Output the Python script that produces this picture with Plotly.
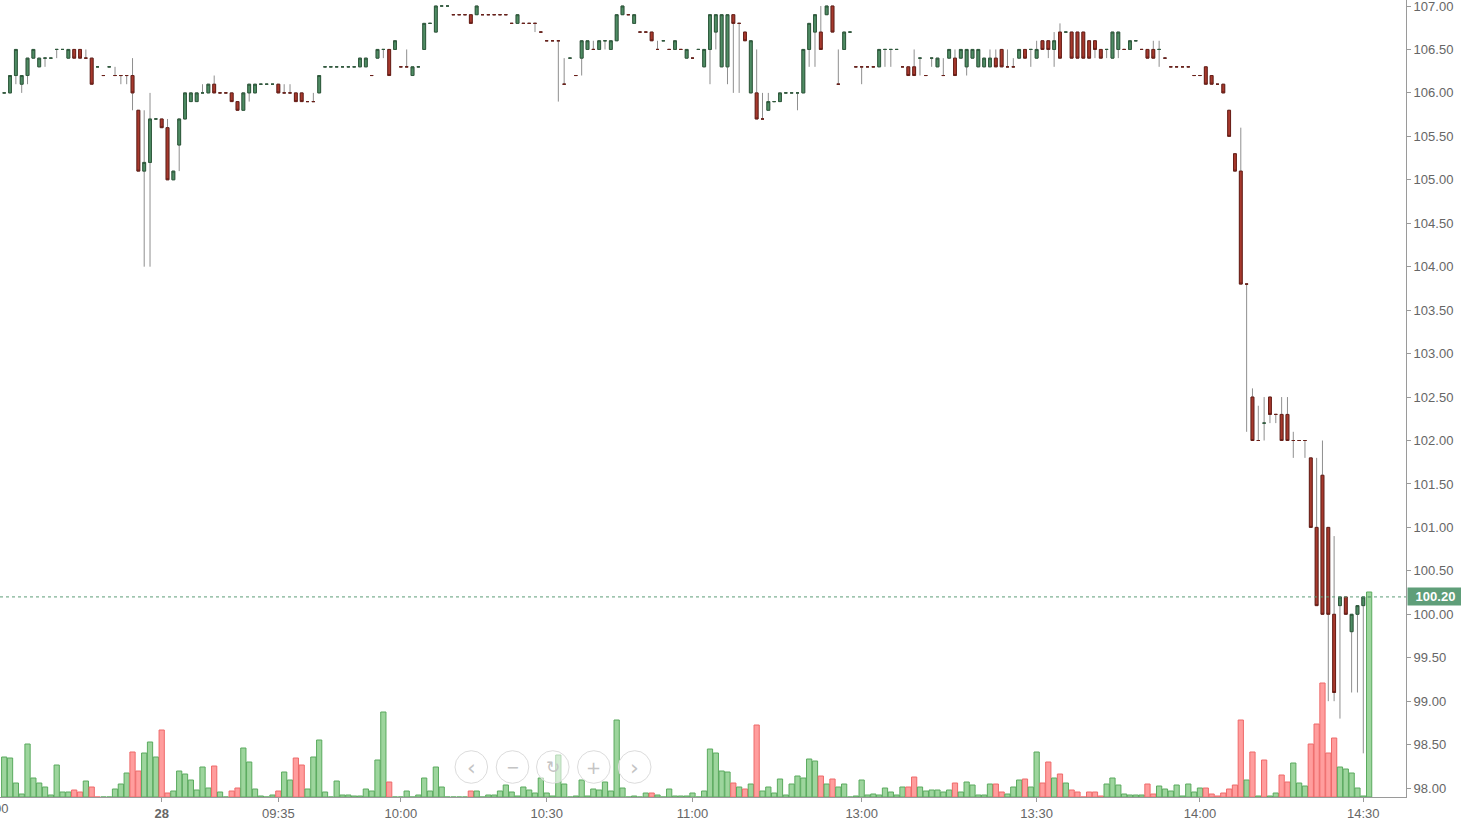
import plotly.graph_objects as go

# ---------------- data (one slot per bar) ----------------
opens = [106.0,106.0,106.2,106.1,106.2,106.4,106.3,106.4,106.4,106.5,
         106.5,106.4,106.5,106.5,106.4,106.4,106.3,106.2,106.3,106.2,
         106.2,106.2,106.2,105.8,105.1,105.2,105.7,105.7,105.6,105.0,
         105.4,105.7,105.9,105.9,106.0,106.0,106.1,106.0,106.0,106.0,
         105.9,105.8,106.0,106.0,106.1,106.1,106.1,106.1,106.0,106.0,
         106.0,106.0,105.9,105.9,106.0,106.3,106.3,106.3,106.3,106.3,
         106.3,106.3,106.3,106.2,106.4,106.5,106.5,106.5,106.3,106.3,
         106.2,106.3,106.5,106.8,106.7,107.0,107.0,106.9,106.9,106.9,
         106.9,106.9,106.9,106.9,106.9,106.9,106.9,106.8,106.8,106.8,
         106.8,106.8,106.7,106.6,106.6,106.6,106.1,106.4,106.2,106.4,
         106.5,106.5,106.5,106.6,106.5,106.6,106.9,106.9,106.8,106.7,
         106.7,106.7,106.5,106.6,106.5,106.5,106.5,106.4,106.4,106.5,
         106.3,106.5,106.7,106.3,106.3,106.9,106.8,106.7,106.0,106.0,
         105.7,105.8,105.9,105.9,106.0,106.0,106.0,106.0,106.5,106.7,
         106.7,106.9,107.0,106.1,106.5,106.7,106.3,106.3,106.3,106.3,
         106.3,106.5,106.5,106.5,106.3,106.3,106.3,106.4,106.2,106.4,
         106.3,106.2,106.4,106.4,106.4,106.3,106.4,106.3,106.3,106.3,
         106.4,106.5,106.3,106.3,106.4,106.5,106.5,106.4,106.6,106.6,
         106.5,106.7,106.7,106.7,106.7,106.7,106.6,106.6,106.5,106.5,
         106.4,106.5,106.5,106.5,106.6,106.5,106.5,106.5,106.5,106.4,
         106.3,106.3,106.3,106.3,106.2,106.2,106.3,106.2,106.1,106.1,
         105.8,105.3,105.1,103.8,102.5,102.0,102.2,102.5,102.3,102.3,
         102.3,102.0,102.0,102.0,101.8,101.0,101.6,101.0,100.0,100.1,
         100.2,99.8,100.0,100.1,100.2]
highs = [106.0,106.2,106.5,106.2,106.4,106.5,106.4,106.4,106.4,106.5,
         106.5,106.5,106.5,106.5,106.5,106.4,106.3,106.2,106.3,106.3,
         106.2,106.2,106.4,105.8,105.8,106.0,105.7,105.7,105.7,105.1,
         105.7,106.0,106.0,106.0,106.1,106.1,106.2,106.0,106.0,106.0,
         105.9,106.0,106.1,106.1,106.1,106.1,106.1,106.1,106.1,106.1,
         106.0,106.0,105.9,106.0,106.2,106.3,106.3,106.3,106.3,106.3,
         106.3,106.4,106.4,106.2,106.5,106.5,106.5,106.6,106.3,106.5,
         106.3,106.3,106.8,106.8,107.0,107.0,107.0,106.9,106.9,106.9,
         106.9,107.0,106.9,106.9,106.9,106.9,106.9,106.8,106.9,106.8,
         106.8,106.8,106.7,106.6,106.6,106.6,106.4,106.4,106.2,106.6,
         106.6,106.6,106.6,106.6,106.6,106.9,107.0,106.9,106.9,106.7,
         106.7,106.7,106.6,106.6,106.5,106.6,106.5,106.5,106.4,106.5,
         106.5,106.9,106.9,106.9,106.9,106.9,106.8,106.7,106.6,106.5,
         106.0,106.0,105.9,106.0,106.0,106.0,106.0,106.5,106.8,106.9,
         107.0,107.0,107.0,106.5,106.7,106.7,106.3,106.3,106.3,106.3,
         106.5,106.5,106.5,106.5,106.3,106.3,106.5,106.4,106.2,106.4,
         106.4,106.4,106.5,106.5,106.5,106.5,106.5,106.5,106.4,106.5,
         106.5,106.5,106.5,106.4,106.5,106.5,106.5,106.6,106.6,106.6,
         106.7,106.8,106.7,106.7,106.7,106.7,106.6,106.6,106.5,106.5,
         106.7,106.7,106.5,106.6,106.6,106.5,106.5,106.6,106.6,106.4,
         106.3,106.3,106.3,106.3,106.2,106.2,106.3,106.2,106.1,106.1,
         105.8,105.3,105.6,103.8,102.6,102.4,102.5,102.5,102.3,102.5,
         102.5,102.1,102.0,102.0,101.8,101.8,102.0,101.0,100.9,100.2,
         100.2,100.0,100.1,100.2,100.2]
lows = [106.0,106.0,106.1,106.0,106.1,106.4,106.3,106.3,106.4,106.4,
        106.5,106.4,106.4,106.4,106.4,106.1,106.3,106.2,106.3,106.2,
        106.1,106.1,105.8,105.1,104.0,104.0,105.7,105.6,105.0,105.0,
        105.1,105.7,105.9,105.9,106.0,106.0,106.0,106.0,106.0,105.9,
        105.8,105.8,105.9,106.0,106.1,106.1,106.1,106.0,106.0,106.0,
        105.9,105.9,105.9,105.9,106.0,106.3,106.3,106.3,106.3,106.3,
        106.3,106.3,106.3,106.2,106.4,106.4,106.2,106.5,106.3,106.3,
        106.2,106.3,106.5,106.8,106.7,107.0,107.0,106.9,106.9,106.9,
        106.8,106.9,106.9,106.9,106.9,106.9,106.9,106.8,106.8,106.8,
        106.8,106.7,106.7,106.6,106.6,105.9,106.1,106.4,106.2,106.2,
        106.5,106.5,106.5,106.5,106.5,106.6,106.9,106.9,106.8,106.7,
        106.7,106.6,106.5,106.6,106.5,106.5,106.5,106.4,106.4,106.5,
        106.3,106.1,106.5,106.3,106.1,106.0,106.0,106.6,106.0,105.7,
        105.7,105.8,105.9,105.9,106.0,106.0,105.8,106.0,106.3,106.3,
        106.5,106.9,106.7,106.1,106.5,106.7,106.3,106.1,106.3,106.3,
        106.3,106.3,106.3,106.5,106.3,106.2,106.2,106.2,106.2,106.3,
        106.3,106.2,106.4,106.2,106.4,106.2,106.4,106.3,106.3,106.3,
        106.3,106.3,106.3,106.3,106.4,106.4,106.3,106.4,106.5,106.4,
        106.3,106.4,106.7,106.4,106.4,106.4,106.4,106.4,106.4,106.4,
        106.4,106.4,106.5,106.5,106.6,106.5,106.4,106.4,106.3,106.4,
        106.3,106.3,106.3,106.3,106.2,106.2,106.1,106.1,106.1,106.0,
        105.5,105.1,103.8,102.1,102.0,102.0,102.0,102.2,102.2,102.0,
        102.0,101.8,102.0,101.8,101.0,100.1,100.0,99.0,99.0,98.8,
        100.0,99.1,99.1,98.4,100.2]
closes = [106.0,106.2,106.5,106.2,106.4,106.5,106.4,106.4,106.4,106.5,
          106.5,106.5,106.4,106.4,106.4,106.1,106.3,106.2,106.3,106.2,
          106.2,106.2,106.0,105.1,105.2,105.7,105.7,105.6,105.0,105.1,
          105.7,106.0,106.0,106.0,106.0,106.1,106.0,106.0,106.0,105.9,
          105.8,106.0,106.1,106.1,106.1,106.1,106.1,106.0,106.0,106.0,
          105.9,105.9,105.9,105.9,106.2,106.3,106.3,106.3,106.3,106.3,
          106.3,106.4,106.4,106.2,106.5,106.5,106.2,106.6,106.3,106.3,
          106.3,106.3,106.8,106.8,107.0,107.0,107.0,106.9,106.9,106.9,
          106.8,107.0,106.9,106.9,106.9,106.9,106.9,106.8,106.9,106.8,
          106.8,106.8,106.7,106.6,106.6,106.6,106.1,106.4,106.2,106.6,
          106.6,106.5,106.6,106.6,106.6,106.9,107.0,106.9,106.9,106.7,
          106.7,106.6,106.5,106.6,106.5,106.6,106.5,106.5,106.4,106.5,
          106.5,106.9,106.9,106.9,106.9,106.8,106.8,106.6,106.6,105.7,
          105.7,105.9,105.9,106.0,106.0,106.0,106.0,106.5,106.8,106.9,
          106.5,107.0,106.7,106.1,106.7,106.7,106.3,106.3,106.3,106.3,
          106.5,106.5,106.5,106.5,106.3,106.2,106.2,106.4,106.2,106.4,
          106.4,106.2,106.5,106.2,106.5,106.5,106.5,106.5,106.4,106.4,
          106.3,106.3,106.3,106.3,106.5,106.4,106.5,106.5,106.5,106.5,
          106.6,106.4,106.7,106.4,106.4,106.4,106.4,106.5,106.4,106.5,
          106.7,106.7,106.5,106.6,106.6,106.5,106.4,106.4,106.5,106.4,
          106.3,106.3,106.3,106.3,106.2,106.2,106.1,106.1,106.1,106.0,
          105.5,105.1,103.8,103.8,102.0,102.0,102.2,102.3,102.3,102.0,
          102.0,102.0,102.0,102.0,101.0,100.1,100.0,100.0,99.1,100.2,
          100.0,100.0,100.1,100.2,100.2]
volumes = [40,39,14,3,53,19,14,10,2,32,
           5,5,7,5,16,10,0,0,0,8,
           13,24,45,26,44,55,40,67,4,6,
           26,23,17,7,30,9,31,5,0,6,
           9,49,35,8,1,0,2,6,25,17,
           39,32,8,40,57,5,0,16,2,2,
           1,1,8,6,37,85,15,0,0,6,
           0,2,19,6,30,10,0,0,0,0,
           6,6,0,2,2,6,12,5,1,10,
           7,4,19,4,1,42,13,0,1,17,
           1,8,7,15,6,77,9,0,1,0,
           4,4,2,0,8,1,1,1,4,0,
           6,48,44,26,25,14,10,8,13,72,
           6,10,4,18,2,13,21,19,38,36,
           21,13,18,10,13,0,1,17,2,3,
           2,9,5,2,10,10,20,10,6,7,
           7,5,7,14,5,15,12,2,2,13,
           13,5,3,10,17,18,10,45,14,35,
           19,23,14,7,5,0,5,5,1,13,
           19,12,3,2,2,2,13,3,11,8,
           6,12,1,13,5,9,9,3,1,4,
           8,12,77,17,45,1,37,1,4,22,
           15,34,14,11,53,73,114,44,59,30,
           28,24,9,1,205]
# volume bar direction: u = up (green), d = down (red)
vol_dir = list("uuuuuuuuuu" "uuddudduuu" "uudduuuddu" "uuuuuuduud"
               "duuuuuuduu" "dduuuuuuuu" "uuuuuuduuu" "uuuuuuuuuu"
               "duuuuuuuuu" "uuuuuuuuuu" "uuuuuuuuuu" "uduuuuuuuu"
               "uuuuududud" "uuuuuuuuuu" "duduuuuuuu" "uuuuudduuu"
               "uuuduuuuuu" "dduuuduudd" "udud" "dddddu" "uuuuuudduu"
               "uuuuuudddd" "dddududuud" "duuudddddu" "uuuuu")
tick_slots = [27, 47, 68, 93, 118, 147, 177, 205, 233]
tick_text = ["<b>28</b>", "09:35", "10:00", "10:30", "11:00", "13:00", "13:30", "14:00", "14:30"]
price_ticks = [98.0 + 0.5 * k for k in range(19)]
last_price = 100.20

# ---------------- build ----------------
n = len(opens)
vol_dir = (vol_dir + ["u"] * n)[:n]
x = list(range(n))
body_hi = [max(o, c) for o, c in zip(opens, closes)]
body_lo = [min(o, c) for o, c in zip(opens, closes)]

FONT = "Liberation Sans, Arial, sans-serif"
W, H = 1461, 821
ML, MR, MT, MB = 0, 55, 0, 24
PW, PH = W - ML - MR, H - MT - MB

up_fill, up_line = "rgba(140,206,140,0.85)", "#5aaa5e"
dn_fill, dn_line = "rgba(255,140,140,0.85)", "#ee6a6a"

fig = go.Figure()

fig.add_trace(go.Bar(
    x=x, y=volumes, yaxis="y2", width=0.9,
    marker=dict(color=[up_fill if d == "u" else dn_fill for d in vol_dir],
                line=dict(color=[up_line if d == "u" else dn_line for d in vol_dir], width=1)),
    hoverinfo="skip", showlegend=False))

# wicks (grey)
fig.add_trace(go.Candlestick(
    x=x, open=opens, high=highs, low=lows, close=closes,
    increasing=dict(line=dict(color="#8f8f8f", width=1), fillcolor="#8f8f8f"),
    decreasing=dict(line=dict(color="#8f8f8f", width=1), fillcolor="#8f8f8f"),
    whiskerwidth=0, showlegend=False, hoverinfo="skip"))
# bodies
fig.add_trace(go.Candlestick(
    x=x, open=opens, high=body_hi, low=body_lo, close=closes,
    increasing=dict(line=dict(color="#2e5a3c", width=1), fillcolor="#4f8c64"),
    decreasing=dict(line=dict(color="#6a1f18", width=1), fillcolor="#a7392d"),
    whiskerwidth=0, showlegend=False, hoverinfo="skip"))

# slot -> pixel: 4.2 px + 5.833 px per slot
x0_slot = -4.2 / 5.833
x1_slot = (PW - 4.2) / 5.833
px_per_unit = 86.9
y_top = 107.0 + 6 / px_per_unit
y_bot = y_top - PH / px_per_unit

shapes = [dict(type="line", xref="paper", x0=0, x1=1, yref="y", y0=last_price, y1=last_price,
               line=dict(color="#5e9e78", width=1, dash="dot"), layer="above")]
annotations = [
    dict(xref="paper", x=1, xanchor="left", xshift=1, yref="y", y=last_price, yanchor="middle",
         text="<b>%.2f</b>" % last_price, showarrow=False, bgcolor="#5f9e79",
         font=dict(family=FONT, size=13, color="white"), width=53, height=15, borderpad=1),
    dict(xref="paper", x=-8 / PW, xanchor="center", yref="paper", y=-11 / PH, yanchor="middle",
         text="15:00", showarrow=False, font=dict(family=FONT, size=13, color="#666666")),
]

# navigator buttons (UI chrome)
btn_cx = [471.3, 512.5, 552.8, 593.8, 634.7]
btn_cy, btn_r = 767.0, 16.3
btn_glyph = ["\u2039", "\u2212", "\u21bb", "+", "\u203a"]
btn_size = [22, 16, 17, 18, 22]
for cx, g, s in zip(btn_cx, btn_glyph, btn_size):
    shapes.append(dict(type="circle", xref="paper", yref="paper",
                       x0=(cx - btn_r) / PW, x1=(cx + btn_r) / PW,
                       y0=1 - (btn_cy + btn_r) / PH, y1=1 - (btn_cy - btn_r) / PH,
                       line=dict(color="#dcdcdc", width=1), fillcolor="rgba(255,255,255,0.55)",
                       layer="above"))
    annotations.append(dict(xref="paper", yref="paper", x=cx / PW, y=1 - btn_cy / PH,
                            xanchor="center", yanchor="middle", text=g, showarrow=False,
                            font=dict(family="DejaVu Sans", size=s, color="#c4c4c4")))

fig.update_layout(
    width=W, height=H, margin=dict(l=ML, r=MR, t=MT, b=MB, pad=0),
    paper_bgcolor="white", plot_bgcolor="white",
    font=dict(family=FONT, size=13, color="#666666"),
    showlegend=False, hovermode=False, bargap=0.05,
    xaxis=dict(range=[x0_slot, x1_slot], rangeslider=dict(visible=False),
               tickmode="array", tickvals=tick_slots, ticktext=tick_text,
               showgrid=False, zeroline=False, showline=True, linecolor="#9a9a9a", linewidth=1,
               ticks="outside", ticklen=4, tickcolor="#9a9a9a",
               tickfont=dict(family=FONT, size=13, color="#666666")),
    yaxis=dict(side="right", range=[y_bot, y_top], tickmode="array", tickvals=price_ticks,
               ticktext=["%.2f" % v for v in price_ticks], ticklabeloverflow="allow",
               showgrid=False, zeroline=False, showline=True, linecolor="#9a9a9a", linewidth=1,
               ticks="outside", ticklen=4, tickcolor="#9a9a9a",
               tickfont=dict(family=FONT, size=13, color="#666666")),
    yaxis2=dict(overlaying="y", range=[0, PH], visible=False, fixedrange=True),
    shapes=shapes, annotations=annotations,
)

fig.write_html("out.html", config={"displayModeBar": False},
               post_script="document.body.style.margin='0px';document.body.style.overflow='hidden';")
